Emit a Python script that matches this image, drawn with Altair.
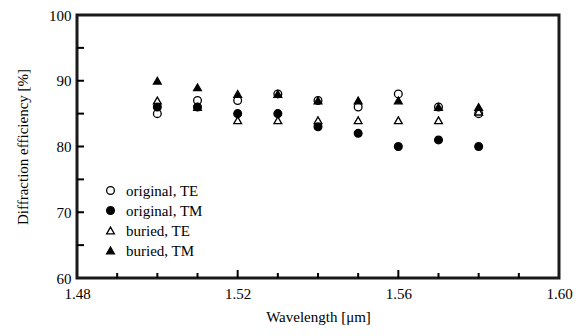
import altair as alt
import pandas as pd

wavelength = [1.50, 1.51, 1.52, 1.53, 1.54, 1.55, 1.56, 1.57, 1.58]
original_te = [85, 87, 87, 88, 87, 86, 88, 86, 85]
original_tm = [86, 86, 85, 85, 83, 82, 80, 81, 80]
buried_te = [87, 86, 84, 84, 84, 84, 84, 84, 85.3]
buried_tm = [90, 89, 88, 88, 87, 87, 87, 86, 86]

series_names = ["original, TE", "original, TM", "buried, TE", "buried, TM"]
series_values = [original_te, original_tm, buried_te, buried_tm]

x_domain = [1.48, 1.60]
y_domain = [60, 100]
x_ticks_major = [1.52, 1.56]
x_ticks_minor = [1.49, 1.50, 1.51, 1.53, 1.54, 1.55, 1.57, 1.58, 1.59]
y_ticks = [65, 70, 75, 80, 85, 90, 95]

rows = []
for name, vals in zip(series_names, series_values):
    for x, v in zip(wavelength, vals):
        rows.append({"wl": x, "eff": v, "series": name})
df = pd.DataFrame(rows)

FONT = "Liberation Serif"
W, H = 482, 263

xscale = alt.Scale(domain=x_domain, nice=False, zero=False)
yscale = alt.Scale(domain=y_domain, nice=False, zero=False)

leg = dict(title=None, orient="none", legendX=26, legendY=168,
           labelFont=FONT, labelFontSize=15, labelColor="black",
           symbolSize=60, rowPadding=4, labelOffset=8, symbolStrokeWidth=1.3)

points = alt.Chart(df).mark_point(size=60, strokeWidth=1.3, opacity=1, filled=False).encode(
    x=alt.X("wl:Q", scale=xscale,
            axis=alt.Axis(values=[1.48, 1.52, 1.56, 1.60], format=".2f", ticks=False, domain=False,
                          grid=False, labelFont=FONT, labelFontSize=15, labelColor="black",
                          labelPadding=8, title="Wavelength [μm]", titleFont=FONT,
                          titleFontSize=15, titleFontWeight="normal", titleColor="black",
                          titlePadding=8, labelFlush=False)),
    y=alt.Y("eff:Q", scale=yscale,
            axis=alt.Axis(values=[60, 70, 80, 90, 100], ticks=False, domain=False, grid=False,
                          labelFont=FONT, labelFontSize=15, labelColor="black", labelPadding=6,
                          title="Diffraction efficiency [%]", titleFont=FONT, titleFontSize=15,
                          titleFontWeight="normal", titleColor="black", titlePadding=18,
                          labelFlush=False)),
    shape=alt.Shape("series:N",
                    scale=alt.Scale(domain=series_names,
                                    range=["circle", "circle", "triangle-up", "triangle-up"]),
                    legend=alt.Legend(**leg)),
    fill=alt.Fill("series:N",
                  scale=alt.Scale(domain=series_names,
                                  range=["transparent", "black", "transparent", "black"]),
                  legend=alt.Legend(**leg)),
    stroke=alt.value("black"),
    order=alt.Order("series:N"),
)

xmaj = alt.Chart(pd.DataFrame({"t": x_ticks_major})).mark_rule(color="black", strokeWidth=2).encode(
    x=alt.X("t:Q", scale=xscale), y=alt.value(H), y2=alt.value(H - 8))
xmin = alt.Chart(pd.DataFrame({"t": x_ticks_minor})).mark_rule(color="black", strokeWidth=2).encode(
    x=alt.X("t:Q", scale=xscale), y=alt.value(H), y2=alt.value(H - 5))
yt = alt.Chart(pd.DataFrame({"t": y_ticks})).mark_rule(color="black", strokeWidth=2).encode(
    y=alt.Y("t:Q", scale=yscale), x=alt.value(0), x2=alt.value(7))

chart = alt.layer(xmaj, xmin, yt, points).properties(
    width=W, height=H,
    autosize=alt.AutoSizeParams(type="none"),
    padding={"left": 69, "top": 7, "right": 17, "bottom": 50},
).configure_view(stroke="#1a1a1a", strokeWidth=3)

chart.save("out.html", embed_options={"renderer": "svg", "actions": False})
